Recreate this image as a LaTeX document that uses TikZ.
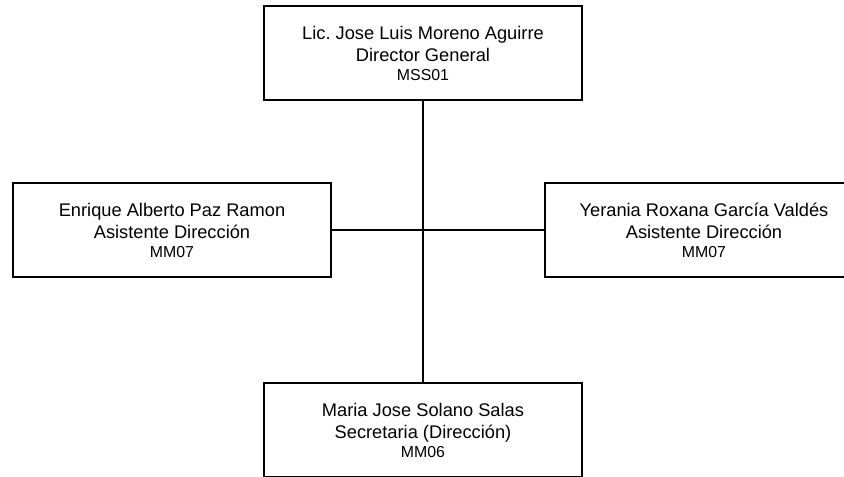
\documentclass[tikz,border=0pt]{standalone}
\usepackage{fontspec}
\setmainfont{Liberation Sans}
\usepackage{tikz}
\frenchspacing
\tikzstyle{org-box} = [rectangle, minimum width=238pt, minimum height=70pt, inner sep=0pt, align=center, draw=black, line width=1.4pt, font=\fontsize{13.7}{16.5}\selectfont, execute at begin node={\rule{0pt}{14.5pt}}]
\tikzstyle{org-line} = [line width=1.1pt]
\newcommand{\plaza}[1]{\\[-2.25pt]{\fontsize{11.9}{16.5}\selectfont #1}}

\begin{document}
\begin{tikzpicture}[x=0.75pt, y=-0.75pt]

\useasboundingbox (0,0) rectangle (844,476);
\clip (0,0) rectangle (844,476);

% Direccion
\node (dir) [org-box] at (423,53) {Lic. Jose Luis Moreno Aguirre\\Director General\plaza{MSS01}};

\node (asis-ep) [org-box] at (172,230) {Enrique Alberto Paz Ramon\\Asistente Dirección\plaza{MM07}};
\node (asis-yr) [org-box] at (704,230) {Yerania Roxana García Valdés\\Asistente Dirección\plaza{MM07}};
\node (secr) [org-box] at (423,430) {Maria Jose Solano Salas\\Secretaria (Dirección)\plaza{MM06}};

\draw [org-line] (dir) -- (secr);
\draw [org-line] (asis-ep) -- (asis-yr);

\end{tikzpicture}
\end{document}
